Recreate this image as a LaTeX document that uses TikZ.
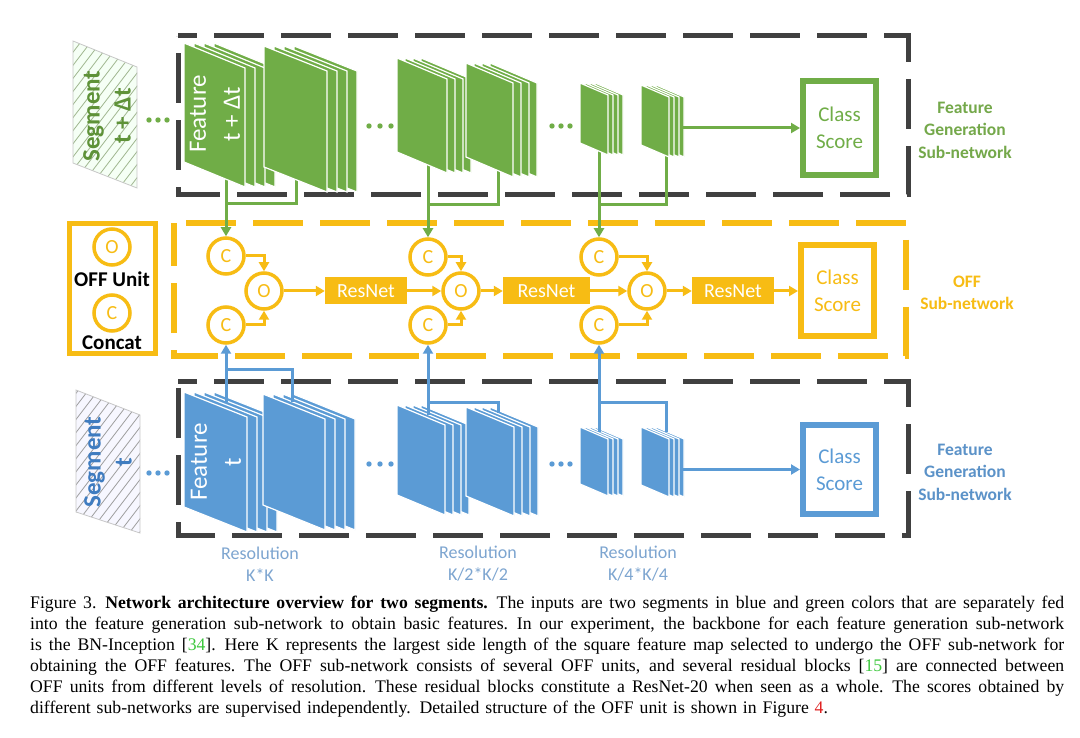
\documentclass[tikz,border=0pt]{standalone}
\usepackage{fontspec}
\setmainfont{Liberation Serif}
\newfontfamily\carl{Carlito}
\usetikzlibrary{arrows.meta}
\definecolor{fgreen}{HTML}{70AD47}
\definecolor{fblue}{HTML}{5B9BD5}
\definecolor{yel}{HTML}{F7BC14}
\definecolor{dgray}{HTML}{404040}
\definecolor{gtext}{HTML}{74A84A}
\definecolor{btext}{HTML}{5B92C8}
\definecolor{rtext}{HTML}{7DA5D0}
\definecolor{seggreen}{HTML}{5E9238}
\definecolor{segblue}{HTML}{3F7CC0}
\definecolor{citeg}{HTML}{3CC83C}
\definecolor{citer}{HTML}{E02020}
\newcommand{\setfs}[2]{\fontsize{#1}{#2}\selectfont}
\newcommand{\capline}[1]{\hbox to 1034pt{\spaceskip=0.25em plus 1em minus 0.08em #1}}
% #1 x, #2 y, #3 width, #4 left height, #5 slope drop, #6 layer offset, #7 colour
\newcommand{\slabstack}[7]{%
  \foreach \k in {3,2,1,0}{%
    \filldraw[fill=#7, draw=white, line width=1.2pt, line join=miter]
      ({#1+\k*#6},{#2}) -- ++(#3,#5) -- ++(0,#4) -- ++(-#3,-#5) -- cycle;
  }%
}
\begin{document}
\begin{tikzpicture}[x=1pt,y=-1pt,
  gdash/.style={draw=dgray, line width=5pt, dash pattern=on 50pt off 17pt},
  ydash/.style={draw=yel, line width=5.5pt, dash pattern=on 50pt off 17pt},
  cnode/.style={circle, draw=yel, line width=3.5pt, minimum size=36pt, inner sep=0pt, text=yel, font=\carl\setfs{20}{20}},
  legtext/.style={inner sep=0pt, text=black, font=\carl\bfseries\setfs{21}{21}},
  resnet/.style={fill=yel, text=white, minimum height=27pt, inner sep=0pt, font=\carl\setfs{20}{20}},
  csbox/.style={line width=6pt, inner sep=0pt, align=center, font=\carl\setfs{21}{27}},
  yarrow/.style={draw=yel, line width=3pt, -{Triangle[length=9pt,width=10pt]}},
  garrow/.style={draw=fgreen, line width=3pt, -{Triangle[length=9pt,width=10pt]}},
  barrow/.style={draw=fblue, line width=3pt, -{Triangle[length=9pt,width=10pt]}},
  gline/.style={draw=fgreen, line width=3pt},
  bline/.style={draw=fblue, line width=3pt},
  subtext/.style={align=center, inner sep=0pt, font=\carl\bfseries\setfs{17.5}{22.5}},
  restext/.style={align=center, inner sep=0pt, text=rtext, font=\carl\setfs{18}{22}},
  slabtext/.style={align=center, inner sep=0pt, text=white, rotate=90, font=\carl\setfs{25}{34}},
  segtext/.style={align=center, inner sep=0pt, rotate=90, font=\carl\bfseries\setfs{25}{31}},
  segline/.style={draw=black!22, line width=0.8pt},
  dotg/.style={fill=fgreen},
  dotb/.style={fill=fblue}
]
\fill[white] (0,0) rectangle (1080,738);
\useasboundingbox (0,0) rectangle (1080,738);

% ---------- dashed frames ----------
\draw[gdash, dash phase=31pt] (178,36) -- (908,36) -- (908,195) -- (178,195) -- cycle;
\draw[gdash, dash phase=31pt] (178,381) -- (908,381) -- (908,535) -- (178,535) -- cycle;
\draw[ydash, dash phase=55pt] (174,223) -- (906,223) -- (906,356) -- (174,356) -- cycle;

% ---------- legend ----------
\node[draw=yel, line width=5pt, minimum width=86pt, minimum height=130pt, inner sep=0pt] (legend) at (112.5,288.5) {};
\node[cnode] (lo) at (112,247) {O};
\node[legtext] (lot) at (112,279) {OFF Unit};
\node[cnode] (lc) at (112,313) {C};
\node[legtext] (lct) at (112,343) {Concat};

% ---------- segments ----------
\begin{scope}
  \clip (73,41) -- (137,67) -- (137,188) -- (73,163) -- cycle;
  \fill[green!4!white] (73,41) rectangle (137,188);
  \foreach \i in {-60,-50,...,140} \draw[draw=fgreen!55!gray!70, line width=0.8pt] (\i,200) -- (\i+130,30);
\end{scope}
\draw[segline] (73,41) -- (137,67) -- (137,188) -- (73,163) -- cycle;
\node[segtext, text=seggreen] (segg) at (107,116) {Segment\\t + Δt};

\begin{scope}
  \clip (76,390) -- (140,415) -- (140,533) -- (76,512) -- cycle;
  \fill[blue!3!white] (76,390) rectangle (140,533);
  \foreach \i in {-60,-50,...,150} \draw[draw=gray!75, line width=0.8pt] (\i,545) -- (\i+130,375);
\end{scope}
\draw[segline] (76,390) -- (140,415) -- (140,533) -- (76,512) -- cycle;
\node[segtext, text=segblue] (segb) at (108,462) {Segment\\t};

% ---------- dots ----------
\foreach \x in {149,158,167} \fill[dotg] (\x,120) circle (2.7);
\foreach \x in {369,380,391} \fill[dotg] (\x,126) circle (2.7);
\foreach \x in {552,561,570} \fill[dotg] (\x,126) circle (2.7);
\foreach \x in {149,158,167} \fill[dotb] (\x,473) circle (2.7);
\foreach \x in {369,380,391} \fill[dotb] (\x,464) circle (2.7);
\foreach \x in {552,561,570} \fill[dotb] (\x,464) circle (2.7);

% ---------- OFF units ----------
\node[cnode] (ct1) at (226,256) {C};
\node[cnode] (cb1) at (226,325) {C};
\node[cnode] (o1) at (264,291) {O};
\node[cnode] (ct2) at (428,257) {C};
\node[cnode] (cb2) at (428,325) {C};
\node[cnode] (o2) at (461,291) {O};
\node[cnode] (ct3) at (599,257) {C};
\node[cnode] (cb3) at (599,325) {C};
\node[cnode] (o3) at (647,291) {O};
\node[resnet, minimum width=82pt] (r1) at (366,291) {ResNet};
\node[resnet, minimum width=87pt] (r2) at (546.5,291) {ResNet};
\node[resnet, minimum width=82pt] (r3) at (733,291) {ResNet};

% ---------- class scores ----------
\node[csbox, draw=fgreen, text=fgreen, minimum width=73pt, minimum height=94pt] (csg) at (839.5,128) {Class\\Score};
\node[csbox, draw=yel, text=yel, minimum width=73pt, minimum height=91pt] (csy) at (837.5,291) {Class\\Score};
\node[csbox, draw=fblue, text=fblue, minimum width=73pt, minimum height=89pt] (csb) at (839.5,469.5) {Class\\Score};

% ---------- coordinates of feature maps ----------
\coordinate (g1a) at (226,179); \coordinate (g1b) at (296,180); \coordinate (gj1) at (226,204);
\coordinate (g2a) at (428,165); \coordinate (g2b) at (498,171); \coordinate (gj2) at (428,205);
\coordinate (g3a) at (599,151); \coordinate (g3b) at (666,156); \coordinate (gj3) at (599,205);
\coordinate (g6r) at (683,128);
\coordinate (b1a) at (226,402); \coordinate (b1b) at (292,402); \coordinate (bj1) at (226,369);
\coordinate (b2a) at (428,415); \coordinate (b2b) at (498,413); \coordinate (bj2) at (428,402);
\coordinate (b3a) at (599,432); \coordinate (b3b) at (666,432); \coordinate (bj3) at (599,402);
\coordinate (b6r) at (683,469.5);

% ---------- green connectors (behind slabs) ----------
\draw[gline] (g1a) -- (gj1) -| (g1b);
\draw[gline] (g2a) -- (gj2) -| (g2b);
\draw[gline] (g3a) -- (gj3) -| (g3b);

% ---------- green feature maps ----------
\slabstack{184}{43}{61}{119}{25}{10}{fgreen}
\slabstack{264}{46}{63}{121}{25}{10}{fgreen}
\slabstack{397}{58}{50}{94}{21}{8}{fgreen}
\slabstack{466}{63}{47}{94}{20}{8}{fgreen}
\slabstack{580}{83}{28}{60}{12}{5}{fgreen}
\slabstack{641}{85}{28}{60}{12}{5}{fgreen}
\node[slabtext] (ftg) at (215,114) {Feature\\t + Δt};

% ---------- blue feature maps ----------
\slabstack{184}{392}{63}{115}{25}{10}{fblue}
\slabstack{263}{394}{62}{111}{25}{10}{fblue}
\slabstack{397}{405}{48}{90}{20}{8}{fblue}
\slabstack{466}{407}{48}{89}{20}{8}{fblue}
\slabstack{580}{427}{28}{57}{12}{5}{fblue}
\slabstack{641}{427}{28}{58}{12}{5}{fblue}
\node[slabtext] (ftb) at (216,462) {Feature\\t};

% ---------- connectors ----------
\draw[garrow] (gj1) -- (ct1.north);
\draw[garrow] (gj2) -- (ct2.north);
\draw[garrow] (gj3) -- (ct3.north);
\draw[bline] (b1a) -- (bj1) -| (b1b);
\draw[bline] (b2a) -- (bj2) -| (b2b);
\draw[bline] (b3a) -- (bj3) -| (b3b);
\draw[barrow] (bj1) -- (cb1.south);
\draw[barrow] (bj2) -- (cb2.south);
\draw[barrow] (bj3) -- (cb3.south);
\draw[garrow] (g6r) -- (csg.west);
\draw[barrow] (b6r) -- (csb.west);

\draw[yarrow] (ct1.east) -| (o1.north);
\draw[yarrow] (cb1.east) -| (o1.south);
\draw[yarrow] (ct2.east) -| (o2.north);
\draw[yarrow] (cb2.east) -| (o2.south);
\draw[yarrow] (ct3.east) -| (o3.north);
\draw[yarrow] (cb3.east) -| (o3.south);
\draw[yarrow] (o1) -- (r1);
\draw[yarrow] (r1) -- (o2);
\draw[yarrow] (o2) -- (r2);
\draw[yarrow] (r2) -- (o3);
\draw[yarrow] (o3) -- (r3);
\draw[yarrow] (r3) -- (csy);

% ---------- side labels ----------
\node[subtext, text=gtext] (lblg) at (965,130) {Feature\\Generation\\Sub-network};
\node[subtext, text=yel] (lbly) at (967,293) {OFF\\Sub-network};
\node[subtext, text=btext] (lblb) at (965,472) {Feature\\Generation\\Sub-network};

% ---------- resolution labels ----------
\node[restext] (res1) at (260,564) {Resolution\\K*K};
\node[restext] (res2) at (478,564) {Resolution\\K/2*K/2};
\node[restext] (res3) at (638,564) {Resolution\\K/4*K/4};

% ---------- caption ----------
\node[anchor=north west, inner sep=0pt, text width=1034pt, align=left, font=\setfs{17.7}{21}] (cap) at (30,596) {%
\capline{Figure 3. \textbf{Network architecture overview for two segments.} The inputs are two segments in blue and green colors that are separately fed}
\capline{into the feature generation sub-network to obtain basic features. In our experiment, the backbone for each feature generation sub-network}
\capline{is the BN-Inception [\textcolor{citeg}{34}]. Here K represents the largest side length of the square feature map selected to undergo the OFF sub-network for}
\capline{obtaining the OFF features. The OFF sub-network consists of several OFF units, and several residual blocks [\textcolor{citeg}{15}] are connected between}
\capline{OFF units from different levels of resolution. These residual blocks constitute a ResNet-20 when seen as a whole. The scores obtained by}
\hbox{different sub-networks are supervised independently. Detailed structure of the OFF unit is shown in Figure \textcolor{citer}{4}.}};
\end{tikzpicture}
\end{document}
